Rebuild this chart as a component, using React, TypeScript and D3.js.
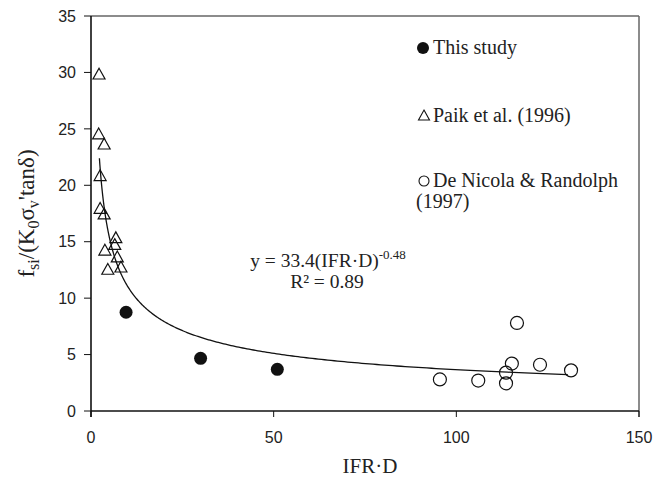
import React from "react";
import * as d3 from "d3";

const xTicks = [0, 50, 100, 150];
const yTicks = [0, 5, 10, 15, 20, 25, 30, 35];

const thisStudyX = [9.6, 30.0, 51.0];
const thisStudyY = [8.75, 4.67, 3.69];

const paikX = [2.2, 2.1, 3.6, 2.5, 2.5, 3.6, 6.8, 6.5, 3.8, 7.2, 4.6, 8.2];
const paikY = [29.8, 24.5, 23.6, 20.8, 17.9, 17.4, 15.3, 14.7, 14.2, 13.6, 12.5, 12.7];

const deNicolaX = [95.5, 106.0, 113.6, 113.6, 115.2, 116.6, 122.9, 131.4];
const deNicolaY = [2.8, 2.7, 2.45, 3.4, 4.2, 7.8, 4.1, 3.6];

const fitA = 33.4;
const fitB = -0.48;
const fitRange = [2.3, 130.5];

const W = 667;
const H = 480;
const L = 91, R = 639, T = 16, B = 411;

export default function App() {
  const x = d3.scaleLinear().domain([0, 150]).range([L, R]);
  const y = d3.scaleLinear().domain([0, 35]).range([B, T]);
  const serif = "'Liberation Serif', 'Times New Roman', serif";
  const sans = "'Liberation Sans', Arial, sans-serif";

  const curvePts: [number, number][] = d3
    .range(0, 301)
    .map((i) => {
      const t = i / 300;
      const xv = Math.exp(Math.log(fitRange[0]) + t * (Math.log(fitRange[1]) - Math.log(fitRange[0])));
      return [xv, fitA * Math.pow(xv, fitB)];
    });
  const line = d3.line<[number, number]>().x((d) => x(d[0])).y((d) => y(d[1]));

  const tri = (cx: number, cy: number, s: number) => {
    const h = s * 0.9;
    return `M${cx},${cy - h * 0.6} L${cx + s / 2},${cy + h * 0.4} L${cx - s / 2},${cy + h * 0.4} Z`;
  };

  return (
    <svg width={W} height={H} style={{ position: "absolute", left: 0, top: 0, background: "#fff" }}>
      <rect x={0} y={0} width={W} height={H} fill="#fff" />
      {/* frame */}
      <line x1={L} x2={R} y1={T} y2={T} stroke="#666" strokeWidth={1.5} />
      <line x1={R} x2={R} y1={T} y2={B + 6} stroke="#666" strokeWidth={1.5} />
      {/* axes */}
      <line x1={L} x2={L} y1={T} y2={B + 6} stroke="#111" strokeWidth={1.6} />
      <line x1={L} x2={R} y1={B} y2={B} stroke="#111" strokeWidth={1.6} />
      {yTicks.map((t) => (
        <g key={"y" + t}>
          <line x1={L - 7} x2={L} y1={y(t)} y2={y(t)} stroke="#111" strokeWidth={1} />
          <text x={L - 15} y={y(t)} dy="0.36em" textAnchor="end" fontFamily={sans} fontSize={16} fill="#222">
            {t}
          </text>
        </g>
      ))}
      {xTicks.map((t) => (
        <g key={"x" + t}>
          <line x1={x(t)} x2={x(t)} y1={B} y2={B + 6} stroke="#111" strokeWidth={1} />
          <text x={x(t)} y={B + 32} textAnchor="middle" fontFamily={sans} fontSize={16} fill="#222">
            {t}
          </text>
        </g>
      ))}
      {/* axis titles */}
      <text x={370} y={473} textAnchor="middle" fontFamily={serif} fontSize={21} fill="#222">
        IFR·D
      </text>
      <text
        transform={`translate(34,${(T + B) / 2}) rotate(-90)`}
        textAnchor="middle"
        fontFamily={serif}
        fontSize={23}
        fill="#222"
      >
        <tspan>f</tspan>
        <tspan dy={5} fontSize={16}>si</tspan>
        <tspan dy={-5}>/(K</tspan>
        <tspan dy={5} fontSize={16}>0</tspan>
        <tspan dy={-5}>σ</tspan>
        <tspan dy={5} fontSize={16}>v</tspan>
        <tspan dy={-5}>'tanδ)</tspan>
      </text>
      {/* fit curve */}
      <path d={line(curvePts) || ""} fill="none" stroke="#111" strokeWidth={1.3} />
      {/* data */}
      {paikX.map((xv, i) => (
        <path key={"p" + i} d={tri(x(xv), y(paikY[i]), 12)} fill="none" stroke="#111" strokeWidth={1.2} />
      ))}
      {deNicolaX.map((xv, i) => (
        <circle key={"d" + i} cx={x(xv)} cy={y(deNicolaY[i])} r={6.5} fill="none" stroke="#111" strokeWidth={1.2} />
      ))}
      {thisStudyX.map((xv, i) => (
        <circle key={"t" + i} cx={x(xv)} cy={y(thisStudyY[i])} r={6.5} fill="#111" />
      ))}
      {/* equation */}
      <text x={328} y={267} textAnchor="middle" fontFamily={serif} fontSize={19.5} fill="#222">
        y = 33.4(IFR·D)
        <tspan dy={-8} fontSize={13}>-0.48</tspan>
      </text>
      <text x={327} y={288} textAnchor="middle" fontFamily={serif} fontSize={19.5} fill="#222">
        R² = 0.89
      </text>
      {/* legend */}
      <circle cx={423} cy={48} r={6} fill="#111" />
      <text x={433} y={54} fontFamily={serif} fontSize={20} fill="#222">This study</text>
      <path d={tri(424, 116, 11)} fill="none" stroke="#111" strokeWidth={1.1} />
      <text x={433} y={122} fontFamily={serif} fontSize={20} fill="#222">Paik et al. (1996)</text>
      <circle cx={424} cy={181} r={5} fill="none" stroke="#111" strokeWidth={1.1} />
      <text x={433} y={187} fontFamily={serif} fontSize={20} fill="#222">De Nicola &amp; Randolph</text>
      <text x={416} y={208} fontFamily={serif} fontSize={20} fill="#222">(1997)</text>
    </svg>
  );
}
